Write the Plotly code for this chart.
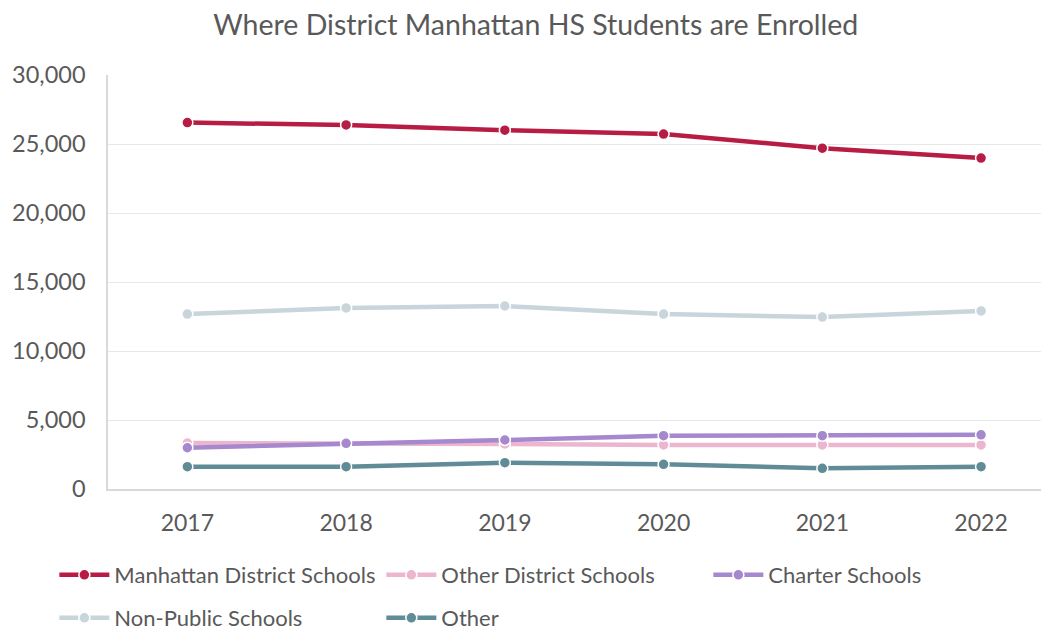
import plotly.graph_objects as go

years = ["2017", "2018", "2019", "2020", "2021", "2022"]
manhattan = [26550, 26380, 26000, 25720, 24700, 23980]
other_district = [3330, 3330, 3260, 3190, 3190, 3190]
charter = [2990, 3310, 3550, 3860, 3860, 3930]
non_public = [12680, 13120, 13260, 12680, 12460, 12900]
other = [1620, 1620, 1910, 1790, 1500, 1620]

series = [
    ("Manhattan District Schools", manhattan, "#B71C44", "legend"),
    ("Other District Schools", other_district, "#EDB6CF", "legend"),
    ("Charter Schools", charter, "#A588CD", "legend"),
    ("Non-Public Schools", non_public, "#C8D5DB", "legend2"),
    ("Other", other, "#5F8C96", "legend2"),
]

font_family = "Lato, 'Open Sans', sans-serif"
fig = go.Figure()
for name, vals, color, lg in series:
    fig.add_trace(go.Scatter(
        x=list(range(len(years))), y=vals, name=name, mode="lines+markers",
        line=dict(color=color, width=4.5), legend=lg,
        marker=dict(size=11, color=color, line=dict(color="white", width=1.5)),
    ))

leg_common = dict(orientation="h", xanchor="left", yanchor="middle",
                  font=dict(size=22, color="#595959"), entrywidth=262,
                  itemwidth=50, bgcolor="rgba(0,0,0,0)")
fig.update_layout(
    width=1041, height=622,
    paper_bgcolor="white", plot_bgcolor="white",
    margin=dict(l=100, r=0, t=67, b=141, autoexpand=False),
    title=dict(text="Where District Manhattan HS Students are Enrolled",
               x=0.507, xanchor="center", y=0.972, yanchor="middle",
               font=dict(family=font_family, size=28.5, color="#595959")),
    font=dict(family=font_family, color="#595959"),
    legend=dict(x=-0.057, y=-0.2077, **leg_common),
    legend2=dict(x=-0.057, y=-0.3116, **leg_common),
    showlegend=True,
)
fig.update_xaxes(
    range=[-0.5, 5.428], tickvals=list(range(len(years))), ticktext=years,
    showgrid=False, showline=True, linecolor="#D9D9D9", linewidth=1.5,
    tickfont=dict(size=23, color="#595959"), ticks="", ticklabelstandoff=13,
    zeroline=False,
)
fig.update_yaxes(
    range=[0, 30000], tickvals=[0, 5000, 10000, 15000, 20000, 25000, 30000],
    tickformat=",d", showgrid=True, gridcolor="#E8E8E8", gridwidth=1,
    showline=True, linecolor="#D9D9D9", linewidth=1.5, zeroline=False,
    tickfont=dict(size=23.5, color="#595959"), ticks="", ticklabelstandoff=16,
)
fig.write_html("out.html")
